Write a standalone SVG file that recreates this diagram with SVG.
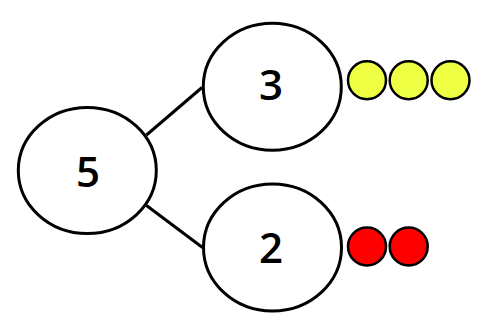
<svg xmlns="http://www.w3.org/2000/svg" width="483" height="328" viewBox="0 0 483 328">
<style>
.node ellipse{fill:#fff;stroke:#000;stroke-width:3}
.lbl{font-family:"Open Sans","DejaVu Sans",sans-serif;font-weight:600;font-size:42px;text-anchor:middle;fill:#000}
.conn line{stroke:#000;stroke-width:3}
.y{fill:#eeff44;stroke:#000;stroke-width:2.5}
.r{fill:#ff0000;stroke:#000;stroke-width:2.5}
</style>
<rect width="483" height="328" fill="#fff"/>
<g id="connectors" class="conn">
<line x1="146.5" y1="135" x2="202" y2="87.5"/>
<line x1="146.5" y1="205.5" x2="202.5" y2="247.5"/>
</g>
<g id="node5" class="node">
<ellipse cx="87.3" cy="170.5" rx="69" ry="63"/>
<text class="lbl" x="88" y="187.3">5</text>
</g>
<g id="node3" class="node">
<ellipse cx="272.3" cy="86.7" rx="69" ry="63.5"/>
<text class="lbl" x="271" y="100">3</text>
</g>
<g id="node2" class="node">
<ellipse cx="272.5" cy="247.5" rx="69" ry="63.5"/>
<text class="lbl" x="271" y="263">2</text>
</g>
<g id="yellow">
<circle class="y" cx="367" cy="80.3" r="19"/>
<circle class="y" cx="408.7" cy="80.3" r="19"/>
<circle class="y" cx="450.5" cy="80.3" r="19"/>
</g>
<g id="red">
<circle class="r" cx="367" cy="246.5" r="19"/>
<circle class="r" cx="408.7" cy="246.5" r="19"/>
</g>
</svg>
